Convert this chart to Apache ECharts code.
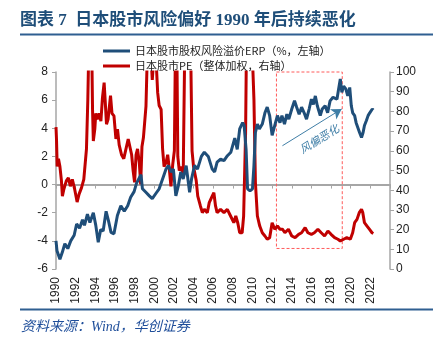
<!DOCTYPE html>
<html><head><meta charset="utf-8">
<script src="https://cdn.jsdelivr.net/npm/echarts@6/dist/echarts.min.js"></script>
<style>html,body{margin:0;padding:0;background:#fff}#c{width:443px;height:339px}</style>
</head><body><div id="c"></div>
<script>
// ERP: Japanese equity risk premium (%, left axis)
const erpYears = [1990.0,1990.1,1990.4,1990.65,1990.9,1991.2,1991.5,1991.85,1992.1,1992.4,1992.7,1992.9,1993.2,1993.45,1993.8,1994.05,1994.3,1994.55,1994.8,1995.1,1995.35,1995.6,1995.9,1996.25,1996.6,1996.95,1997.3,1997.6,1997.95,1998.2,1998.5,1998.65,1998.8,1999.15,1999.5,1999.8,2000.2,2000.5,2000.85,2001.2,2001.45,2001.7,2001.95,2002.2,2002.45,2002.7,2002.95,2003.25,2003.6,2003.8,2004.1,2004.4,2004.8,2005.1,2005.5,2005.9,2006.15,2006.4,2006.75,2007.1,2007.45,2007.8,2008.0,2008.2,2008.45,2008.7,2009.0,2009.15,2009.35,2009.5,2009.75,2010.0,2010.15,2010.3,2010.5,2010.7,2011.0,2011.27,2011.5,2011.75,2012.0,2012.27,2012.54,2012.8,2013.0,2013.26,2013.5,2013.7,2014.0,2014.28,2014.5,2014.75,2015.0,2015.26,2015.5,2015.77,2016.0,2016.2,2016.4,2016.6,2016.9,2017.1,2017.4,2017.65,2017.9,2018.2,2018.4,2018.6,2018.77,2018.94,2019.1,2019.28,2019.5,2019.7,2019.9,2020.06,2020.2,2020.4,2020.55,2020.75,2020.9,2021.1,2021.26,2021.4,2021.6,2021.77,2021.94,2022.2,2022.3];
const erpValues = [-4.0,-4.7,-5.3,-4.8,-4.2,-4.55,-4.0,-3.6,-2.8,-3.1,-2.5,-2.9,-2.1,-2.7,-2.0,-2.9,-4.1,-3.2,-3.3,-1.9,-2.6,-3.4,-3.5,-2.2,-1.5,-1.9,-1.5,-0.9,-0.5,0.1,0.5,0.7,-0.3,-0.55,-0.8,-1.0,-0.6,-0.3,0.4,1.1,1.35,0.9,1.1,-0.8,-0.1,0.9,0.4,1.35,-0.55,0.4,1.35,1.1,2.0,2.3,2.0,1.1,0.9,1.6,1.8,1.7,2.05,2.3,2.8,3.3,2.5,3.95,4.4,4.2,2.5,-0.3,-0.45,-0.3,1.35,3.7,4.3,3.95,4.3,5.1,5.5,4.9,3.5,4.2,4.9,4.4,4.9,4.3,5.0,4.65,5.37,5.95,5.5,5.0,5.5,5.1,4.65,5.37,6.07,5.7,6.3,5.6,4.9,5.37,5.6,5.1,5.95,6.2,6.3,6.07,6.8,7.5,6.55,7.0,6.8,6.3,6.9,5.6,5.1,4.9,4.4,4.3,3.7,3.35,3.7,4.2,4.55,4.9,5.1,5.37,5.3];
// PE: Japanese market PE (weighted, right axis)
const peYears = [1990.0,1990.05,1990.12,1990.25,1990.4,1990.55,1990.65,1990.8,1991.05,1991.26,1991.46,1991.66,1991.9,1992.15,1992.35,1992.6,1992.83,1993.0,1993.1,1993.24,1993.33,1993.5,1993.65,1993.72,1993.8,1993.95,1994.05,1994.2,1994.4,1994.57,1994.73,1994.9,1995.0,1995.14,1995.3,1995.55,1995.7,1995.9,1996.1,1996.26,1996.43,1996.67,1996.9,1997.1,1997.35,1997.5,1997.7,1997.85,1998.0,1998.15,1998.3,1998.48,1998.62,1998.75,1998.9,1999.06,1999.16,1999.3,1999.6,1999.8,2000.0,2000.2,2000.35,2000.5,2000.7,2000.85,2001.0,2001.2,2001.37,2001.54,2001.7,2001.88,2002.05,2002.15,2002.3,2002.4,2002.55,2002.75,2002.95,2003.1,2003.4,2003.7,2003.85,2004.0,2004.27,2004.43,2004.7,2004.9,2005.1,2005.4,2005.6,2005.9,2006.07,2006.24,2006.4,2006.75,2007.1,2007.44,2007.77,2008.1,2008.3,2008.5,2008.7,2008.95,2009.1,2009.3,2009.4,2009.7,2009.9,2010.05,2010.15,2010.3,2010.5,2010.74,2011.0,2011.27,2011.5,2011.75,2012.0,2012.27,2012.54,2012.8,2013.05,2013.3,2013.66,2014.0,2014.34,2014.7,2015.0,2015.36,2015.64,2016.0,2016.3,2016.66,2017.0,2017.34,2017.68,2018.0,2018.36,2018.7,2018.94,2019.28,2019.6,2019.96,2020.2,2020.4,2020.64,2020.87,2021.1,2021.23,2021.4,2021.66,2021.9,2022.17,2022.3];
const peValues = [72,66,52,56,52,45,37,40.5,44.7,46.3,42,45.5,40.5,34,38,41.3,45.5,46.3,60.8,86,110,115,108,81,65,71,79,76,79,75,87,94.6,86,73.5,76,88,79,77.7,66,71,63,58,56,55,66,67,58,50,44,58,61,54,43,62,66.7,67.5,82.7,110,115,96,110,105,89.5,83,81,61,52,54,58,50.6,42,53,60,110,115,57,50,52,48,110,120,115,60,52,45,37,32,28.6,30.3,28.6,33.7,37,38.7,32,28.6,30.3,28.6,30.3,26.9,23.5,26.9,23.5,18.4,18.4,26.9,69,120,110,120,100,86,43.8,26.9,21.8,18.4,16.75,15.1,15.9,23.5,20.2,21.8,20.2,20.2,18.4,20.2,16.75,15.9,17.6,18.4,21,18.4,17.6,18.4,20.2,18.4,16.75,19.3,17.6,15.9,15.1,14.2,15.1,15.9,15.1,18.4,23.5,25.2,28.6,30.3,28.6,23.5,21.8,20.2,18.4,18];
const seriesNames = ['日本股市股权风险溢价ERP（%，左轴）', '日本股市PE（整体加权，右轴）'];
const titleText = '图表 7  日本股市风险偏好 1990 年后持续恶化';
const sourceText = '资料来源：Wind，华创证券';
const boxCorners = [[2012.44, 8], [2019.14, -4.54]];
const arrowEnds = [[2013.05, 2.76], [2019.08, 5.37]];
const arrowLabel = '风偏恶化';

const erpData = erpYears.map((y, i) => [y, erpValues[i]]);
const peData = peYears.map((y, i) => [y, peValues[i]]);

const chart = echarts.init(document.getElementById('c'), null, {renderer: 'canvas'});
const axisGrey = '#a6a6a6';
const labelFont = 'Arial, "Liberation Sans", sans-serif';
chart.setOption({
  animation: false,
  backgroundColor: '#fff',
  grid: {left: 56, right: 53, top: 72, bottom: 70, containLabel: false},
  legend: {
    orient: 'vertical', left: 98, top: 40, itemGap: 3,
    itemWidth: 27, itemHeight: 3, icon: 'rect',
    textStyle: {fontSize: 11, color: '#222', fontFamily: '"Noto Sans CJK SC", Arial, sans-serif', lineHeight: 12},
    data: seriesNames
  },
  xAxis: [{
    type: 'value', min: 1990, max: 2024, interval: 2, position: 'bottom',
    axisLine: {show: false, onZero: false}, axisTick: {show: false}, splitLine: {show: false},
    axisLabel: {rotate: 90, fontSize: 12, color: '#222', fontFamily: labelFont, margin: 8, showMaxLabel: false,
      formatter: v => (v >= 2024 ? '' : String(v))}
  }, {
    type: 'value', min: 1990, max: 2024, interval: 2, position: 'top',
    axisLine: {show: true, onZero: true, onZeroAxisIndex: 0, lineStyle: {color: axisGrey, width: 2}},
    axisTick: {show: true, inside: true, length: 4, lineStyle: {color: axisGrey}},
    axisLabel: {show: false}, splitLine: {show: false}
  }],
  yAxis: [{
    type: 'value', min: -6, max: 8, interval: 2, position: 'left',
    axisLine: {show: true, lineStyle: {color: axisGrey, width: 1.5}},
    axisTick: {show: true, length: 4, lineStyle: {color: axisGrey}},
    splitLine: {show: false},
    axisLabel: {fontSize: 12, color: '#222', fontFamily: labelFont, margin: 8}
  }, {
    type: 'value', min: 0, max: 100, interval: 10, position: 'right',
    axisLine: {show: true, lineStyle: {color: axisGrey, width: 1.5}},
    axisTick: {show: true, length: 4, lineStyle: {color: axisGrey}},
    splitLine: {show: false},
    axisLabel: {fontSize: 12, color: '#222', fontFamily: labelFont, margin: 6}
  }],
  series: [{
    name: seriesNames[0], type: 'line', xAxisIndex: 0, yAxisIndex: 0,
    data: erpData, showSymbol: false, symbol: 'none', z: 3,
    lineStyle: {color: '#1f4e79', width: 3}, itemStyle: {color: '#1f4e79'},
    markLine: {
      silent: true, symbol: ['none', 'arrow'], symbolSize: [9, 10],
      lineStyle: {color: '#3f7ea6', width: 1, type: 'solid'},
      label: {show: true, position: 'insideMiddleBottom', formatter: arrowLabel, distance: 8,
        color: '#3f7ea6', fontSize: 11, fontStyle: 'italic', fontFamily: '"Noto Sans CJK SC", sans-serif'},
      data: [[{coord: arrowEnds[0]}, {coord: arrowEnds[1]}]]
    },
    markArea: {
      silent: true,
      itemStyle: {color: 'rgba(0,0,0,0)', borderColor: '#ff5a5a', borderWidth: 1, borderType: [3, 2]},
      data: [[{coord: boxCorners[0]}, {coord: boxCorners[1]}]]
    }
  }, {
    name: seriesNames[1], type: 'line', xAxisIndex: 0, yAxisIndex: 1,
    data: peData, showSymbol: false, symbol: 'none', clip: true, z: 2,
    lineStyle: {color: '#c00000', width: 3}, itemStyle: {color: '#c00000'}
  }],
  graphic: [
    {type: 'text', left: 20, top: 12, style: {text: titleText, fontSize: 17, fontWeight: 'bold',
      fill: '#1f4e79', fontFamily: '"Liberation Serif", "Noto Sans CJK SC", serif'}},
    {type: 'line', shape: {x1: 20, y1: 34.5, x2: 433, y2: 34.5}, style: {stroke: '#2f5f91', lineWidth: 2}},
    {type: 'line', shape: {x1: 20, y1: 309.5, x2: 433, y2: 309.5}, style: {stroke: '#2f5f91', lineWidth: 2}},
    {type: 'text', left: 21, top: 320, style: {text: sourceText, fontSize: 14, fontStyle: 'italic',
      fill: '#1f4e9a', fontFamily: '"Liberation Serif", "Noto Sans CJK SC", serif'}}
  ]
});
</script>
</body></html>
